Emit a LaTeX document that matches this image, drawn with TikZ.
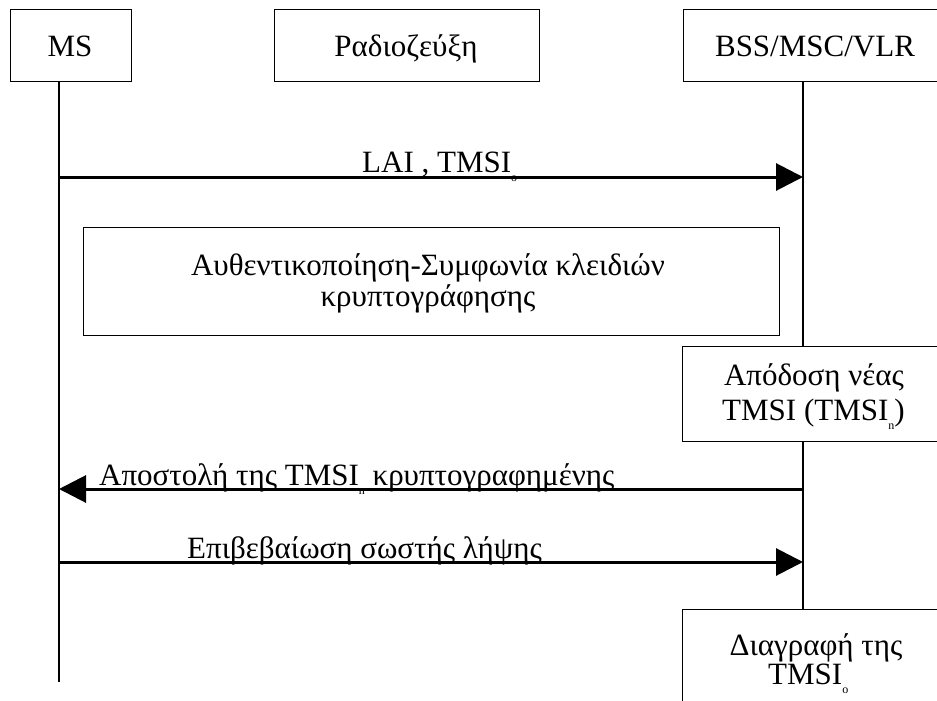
\documentclass[tikz,border=0pt]{standalone}
\usepackage{fontspec}
\setmainfont{Liberation Serif}
\usetikzlibrary{arrows.meta}
% low, small index in the style of the word processor
\newcommand{\lowidx}[1]{\raisebox{-9pt}{\fontsize{12}{12}\selectfont #1}}
\begin{document}
\begin{tikzpicture}[x=1pt,y=-1pt,
  box/.style={draw, line width=1.4pt, rectangle, inner sep=0pt, anchor=north west},
  txt/.style={font=\fontsize{31}{35}\selectfont, inner sep=0pt},
  life/.style={line width=1.3pt},
  msg/.style={line width=3pt, -{Triangle[length=27pt,width=27pt]}}]
\useasboundingbox (0,0) rectangle (937,701);
\begin{scope}
\clip (0,0) rectangle (937,701);

% participants
\node[box, minimum width=121pt, minimum height=72pt] (ms) at (10,9) {};
\node[box, minimum width=265pt, minimum height=72pt] (radio) at (274,9) {};
\node[box, minimum width=270pt, minimum height=72pt] (bss) at (683,9) {};
\node[txt, anchor=base] (mst) at (70,57) {MS};
\node[txt, anchor=base] (radiot) at (406,57) {Ραδιοζεύξη};
\node[txt, anchor=base] (bsst) at (815,57) {BSS/MSC/VLR};

% action boxes
\node[box, minimum width=696pt, minimum height=108pt] (auth) at (83,227) {};
\node[txt, anchor=base] (autht1) at (428,275) {Αυθεντικοποίηση-Συμφωνία κλειδιών};
\node[txt, anchor=base] (autht2) at (428,306) {κρυπτογράφησης};

\node[box, minimum width=270pt, minimum height=95pt] (apod) at (682,346) {};
\node[txt, anchor=base] (apodt1) at (814,385) {Απόδοση νέας};
\node[txt, anchor=base west] (apodt2) at (722,420) {TMSI (TMSI\lowidx{n})};

\node[box, minimum width=270pt, minimum height=110pt] (diag) at (682,609) {};
\node[txt, anchor=base] (diagt1) at (816,655) {Διαγραφή της};
\node[txt, anchor=base west] (diagt2) at (768,684) {TMSI\lowidx{o}};

% lifelines
\coordinate (msx) at (59,0);
\coordinate (bssx) at (803,0);
\coordinate (msend) at (59,682);
\draw[life] (ms.south -| msx) -- (msend);
\draw[life] (bss.south -| bssx) -- (apod.north -| bssx);
\draw[life] (apod.south -| bssx) -- (diag.north -| bssx);

% messages
\coordinate (m1) at (59,177);
\coordinate (m2) at (59,489);
\coordinate (m3) at (59,562);
\draw[msg] (m1) -- (m1 -| bssx);
\draw[msg] (m2 -| bssx) -- (m2);
\draw[msg] (m3) -- (m3 -| bssx);
\node[txt, anchor=base west] (lai) at (362,172) {LAI , TMSI\lowidx{o}};
\node[txt, anchor=base west] (send) at (99,485) {Αποστολή της TMSI\lowidx{n} κρυπτογραφημένης};
\node[txt, anchor=base west] (ack) at (187,558) {Επιβεβαίωση σωστής λήψης};
\end{scope}
\end{tikzpicture}
\end{document}
